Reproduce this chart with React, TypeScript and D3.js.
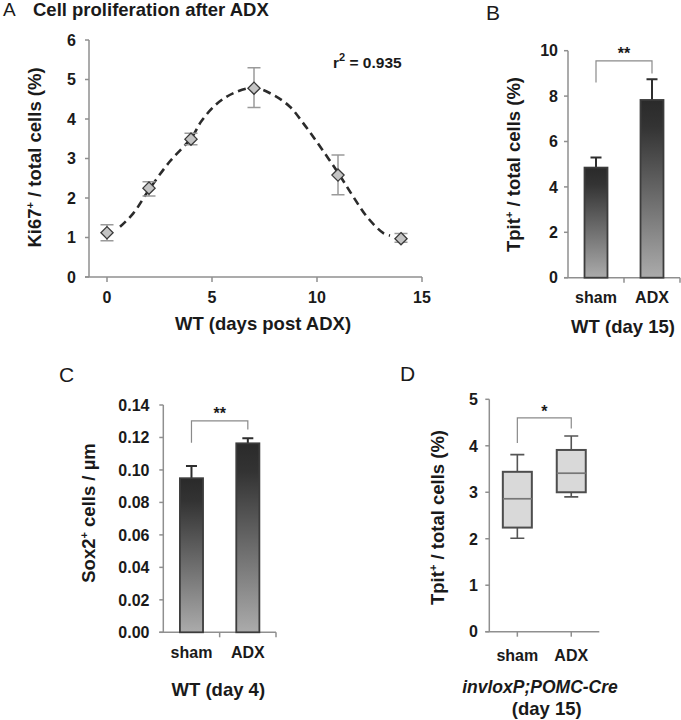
import React from "react";
import * as d3 from "d3";

// ---------- Panel A data ----------
const daysA = [0, 2, 4, 7, 11, 14];
const meansA = [1.12, 2.25, 3.49, 4.78, 2.58, 0.97];
const errLowA = [0.92, 2.05, 3.35, 4.29, 2.08, 0.88];
const errHighA = [1.32, 2.41, 3.64, 5.3, 3.09, 1.1];
const fitDays = [0.62, 1.25, 2.05, 3.0, 4.03, 4.5, 5.22, 6.0, 7.0, 7.92, 8.71, 9.35, 9.98, 11.05, 11.73, 12.37, 13.16, 13.48];
const fitValues = [1.27, 1.61, 2.25, 2.93, 3.53, 3.95, 4.38, 4.65, 4.79, 4.61, 4.31, 3.89, 3.43, 2.6, 2.03, 1.53, 1.11, 1.05];
const ticksAy = [0, 1, 2, 3, 4, 5, 6];
const ticksAx = [0, 5, 10, 15];

// ---------- Panel B / C / D data ----------
const categories = ["sham", "ADX"];
const valuesB = [4.85, 7.83];
const errB = [0.45, 0.91];
const ticksB = [0, 2, 4, 6, 8, 10];

const valuesC = [0.0949, 0.1164];
const errC = [0.0075, 0.0031];
const ticksC = [0, 0.02, 0.04, 0.06, 0.08, 0.1, 0.12, 0.14];

const minD = [2.01, 2.9];
const q1D = [2.24, 3.0];
const medD = [2.86, 3.41];
const q3D = [3.44, 3.91];
const maxD = [3.81, 4.21];
const ticksD = [0, 1, 2, 3, 4, 5];

const AXIS = "#8f8f8f";
const TXT = "#1a1a1a";
const FONT = "'Liberation Sans', Arial, sans-serif";
const TICK_FS = 16;

function SupText({ pre, sup, post }: { pre: string; sup: string; post: string }) {
  return (
    <>
      <tspan>{pre}</tspan>
      <tspan dy={-7} fontSize={11}>{sup}</tspan>
      <tspan dy={7}>{post}</tspan>
    </>
  );
}

function Bracket({ x1, x2, yTop, yL, yR, label, labelY }: any) {
  return (
    <g>
      <path d={`M${x1},${yL}V${yTop}H${x2}V${yR}`} fill="none" stroke="#8a8a8a" strokeWidth={1.2} />
      <text x={(x1 + x2) / 2} y={labelY} textAnchor="middle" fontSize={16} fontWeight="bold" fill={TXT}>
        {label}
      </text>
    </g>
  );
}

function YAxis({ x, scale, ticks, fmt, labelX }: any) {
  const [r0, r1] = scale.range();
  return (
    <g>
      <line x1={x} x2={x} y1={r0} y2={r1} stroke={AXIS} strokeWidth={1.5} />
      {ticks.map((t: number) => (
        <g key={t}>
          <line x1={x - 4} x2={x} y1={scale(t)} y2={scale(t)} stroke={AXIS} strokeWidth={1.5} />
          <text x={labelX} y={scale(t)} dy="0.36em" textAnchor="end" fontSize={TICK_FS} fontWeight="bold" fill={TXT}>
            {fmt ? fmt(t) : t}
          </text>
        </g>
      ))}
    </g>
  );
}

function PanelA() {
  const x = d3.scaleLinear().domain([0, 15]).range([107, 422]);
  const y = d3.scaleLinear().domain([0, 6]).range([277, 40]);
  const line = d3
    .line<number>()
    .x((_, i) => x(fitDays[i]))
    .y((v) => y(v))
    .curve(d3.curveCatmullRom.alpha(0.5));
  const diamond = d3.symbol().type(d3.symbolDiamond2).size(95)();
  return (
    <g>
      <text x={3} y={16} fontSize={19} fill={TXT}>A</text>
      <text x={33} y={15.5} fontSize={18.5} fontWeight="bold" fill={TXT}>Cell proliferation after ADX</text>
      <YAxis x={89} scale={y} ticks={ticksAy} labelX={76} />
      <line x1={85} x2={x(15)} y1={y(0)} y2={y(0)} stroke={AXIS} strokeWidth={1.5} />
      {ticksAx.map((t) => (
        <g key={t}>
          <line x1={x(t)} x2={x(t)} y1={y(0)} y2={y(0) + 5} stroke={AXIS} strokeWidth={1.5} />
          <text x={x(t)} y={297} dy="0.36em" textAnchor="middle" fontSize={TICK_FS} fontWeight="bold" fill={TXT}>{t}</text>
        </g>
      ))}
      <text x={263} y={323} dy="0.36em" textAnchor="middle" fontSize={18.5} fontWeight="bold" fill={TXT}>WT (days post ADX)</text>
      <text transform="translate(34,157.5) rotate(-90)" textAnchor="middle" dy="0.36em" fontSize={18.5} fontWeight="bold" fill={TXT}>
        <SupText pre="Ki67" sup="+" post=" / total cells (%)" />
      </text>
      <text x={333} y={62} dy="0.36em" fontSize={15.5} fontWeight="bold" fill={TXT}>
        <SupText pre="r" sup="2" post=" = 0.935" />
      </text>
      <path d={line(fitValues) || ""} fill="none" stroke="#2b2b2b" strokeWidth={2.6} strokeDasharray="8,5" />
      {daysA.map((d, i) => (
        <g key={d}>
          <path
            d={`M${x(d)},${y(errLowA[i])}V${y(errHighA[i])}M${x(d) - 6.5},${y(errLowA[i])}h13M${x(d) - 6.5},${y(errHighA[i])}h13`}
            stroke="#9a9a9a"
            strokeWidth={1.5}
            fill="none"
          />
          <path d={diamond || ""} transform={`translate(${x(d)},${y(meansA[i])})`} fill="#c4c4c4" stroke="#3a3a3a" strokeWidth={1.3} />
        </g>
      ))}
    </g>
  );
}

function BarPanel({ x0, x1, y, values, errs, ticks, fmt, labelX, letter, letterPos, ylabel, ylabelPos, xlabel, xlabelPos, bracket }: any) {
  const xb = d3.scaleBand<string>().domain(categories).range([x0, x1]);
  const bw = xb.bandwidth() * 0.41;
  const base = y(0);
  return (
    <g>
      <text x={letterPos[0]} y={letterPos[1]} fontSize={21} fill={TXT}>{letter}</text>
      <YAxis x={x0} scale={y} ticks={ticks} fmt={fmt} labelX={labelX} />
      <line x1={x0 - 4} x2={x1} y1={base} y2={base} stroke={AXIS} strokeWidth={1.5} />
      {[x0 + xb.bandwidth(), x1].map((t, i) => (
        <line key={i} x1={t} x2={t} y1={base} y2={base + 5} stroke={AXIS} strokeWidth={1.5} />
      ))}
      {categories.map((c, i) => {
        const cx = (xb(c) as number) + xb.bandwidth() / 2;
        return (
          <g key={c}>
            <path
              d={`M${cx},${y(values[i])}V${y(values[i] + errs[i])}M${cx - 5.5},${y(values[i] + errs[i])}h11`}
              stroke="#2e2e2e"
              strokeWidth={2}
              fill="none"
            />
            <rect x={cx - bw / 2} y={y(values[i])} width={bw} height={base - y(values[i])} fill="url(#barGrad)" stroke="#3c3c3c" strokeWidth={1.8} />
            <text x={cx} y={base + 20} dy="0.36em" textAnchor="middle" fontSize={TICK_FS} fontWeight="bold" fill={TXT}>{c}</text>
          </g>
        );
      })}
      <text x={xlabelPos[0]} y={xlabelPos[1]} dy="0.36em" textAnchor="middle" fontSize={18.5} fontWeight="bold" fill={TXT}>{xlabel}</text>
      <text transform={`translate(${ylabelPos[0]},${ylabelPos[1]}) rotate(-90)`} dy="0.36em" textAnchor="middle" fontSize={18.5} fontWeight="bold" fill={TXT}>
        {ylabel}
      </text>
      <Bracket
        x1={(xb(categories[0]) as number) + xb.bandwidth() / 2}
        x2={(xb(categories[1]) as number) + xb.bandwidth() / 2}
        yTop={y(bracket[0])}
        yL={y(bracket[1])}
        yR={y(bracket[2])}
        label={bracket[3]}
        labelY={y(bracket[0]) - 2}
      />
    </g>
  );
}

function PanelD() {
  const y = d3.scaleLinear().domain([0, 5]).range([631.7, 399.3]);
  const x = d3.scalePoint<string>().domain(categories).range([489.3, 599.3]).padding(0.52);
  const base = y(0);
  const bw = 29;
  return (
    <g>
      <text x={400} y={381} fontSize={21} fill={TXT}>D</text>
      <YAxis x={489.3} scale={y} ticks={ticksD} labelX={478} />
      <line x1={485.3} x2={599.3} y1={base} y2={base} stroke={AXIS} strokeWidth={1.5} />
      {categories.map((c, i) => {
        const cx = x(c) as number;
        return (
          <g key={c}>
            <line x1={cx} x2={cx} y1={base} y2={base + 5} stroke={AXIS} strokeWidth={1.5} />
            <path
              d={`M${cx},${y(q3D[i])}V${y(maxD[i])}M${cx - 7},${y(maxD[i])}h14M${cx},${y(q1D[i])}V${y(minD[i])}M${cx - 7},${y(minD[i])}h14`}
              stroke="#555"
              strokeWidth={1.6}
              fill="none"
            />
            <rect x={cx - bw / 2} y={y(q3D[i])} width={bw} height={y(q1D[i]) - y(q3D[i])} fill="#d9d9d9" stroke="#4d4d4d" strokeWidth={2} />
            <line x1={cx - bw / 2} x2={cx + bw / 2} y1={y(medD[i])} y2={y(medD[i])} stroke="#777" strokeWidth={1.7} />
            <text x={cx} y={655.7} dy="0.36em" textAnchor="middle" fontSize={TICK_FS} fontWeight="bold" fill={TXT}>{c}</text>
          </g>
        );
      })}
      <text transform="translate(437,517.5) rotate(-90)" dy="0.36em" textAnchor="middle" fontSize={18.5} fontWeight="bold" fill={TXT}>
        <SupText pre="Tpit" sup="+" post=" / total cells (%)" />
      </text>
      <text x={540} y={686.7} dy="0.36em" textAnchor="middle" fontSize={17.5} fontWeight="bold" fontStyle="italic" fill={TXT}>invloxP;POMC-Cre</text>
      <text x={546.7} y={708.3} dy="0.36em" textAnchor="middle" fontSize={18.5} fontWeight="bold" fill={TXT}>(day 15)</text>
      <Bracket x1={x(categories[0])} x2={x(categories[1])} yTop={y(4.6)} yL={y(4.06)} yR={y(4.37)} label="*" labelY={y(4.6) - 1} />
    </g>
  );
}

export default function App() {
  const yB = d3.scaleLinear().domain([0, 10]).range([277.7, 50.7]);
  const yC = d3.scaleLinear().domain([0, 0.14]).range([632.3, 405]);
  return (
    <svg width={681} height={720} style={{ position: "absolute", left: 0, top: 0, background: "#fff" }} fontFamily={FONT}>
      <defs>
        <linearGradient id="barGrad" x1="0" y1="0" x2="0" y2="1">
          <stop offset="0" stopColor="#2a2a2a" />
          <stop offset="0.15" stopColor="#333333" />
          <stop offset="1" stopColor="#ababab" />
        </linearGradient>
      </defs>
      <rect width={681} height={720} fill="#fff" />
      <PanelA />
      <BarPanel
        x0={568}
        x1={680}
        y={yB}
        values={valuesB}
        errs={errB}
        ticks={ticksB}
        labelX={558}
        letter="B"
        letterPos={[486, 20]}
        ylabel={<SupText pre="Tpit" sup="+" post=" / total cells (%)" />}
        ylabelPos={[513, 164.5]}
        xlabel="WT (day 15)"
        xlabelPos={[623, 326.7]}
        bracket={[9.55, 8.6, 9.0, "**"]}
      />
      <BarPanel
        x0={163.3}
        x1={276}
        y={yC}
        values={valuesC}
        errs={errC}
        ticks={ticksC}
        fmt={d3.format(".2f")}
        labelX={149.5}
        letter="C"
        letterPos={[59, 382]}
        ylabel={<SupText pre="Sox2" sup="+" post=" cells / µm" />}
        ylabelPos={[88, 513]}
        xlabel="WT (day 4)"
        xlabelPos={[218.3, 689]}
        bracket={[0.1302, 0.1167, 0.1249, "**"]}
      />
      <PanelD />
    </svg>
  );
}
